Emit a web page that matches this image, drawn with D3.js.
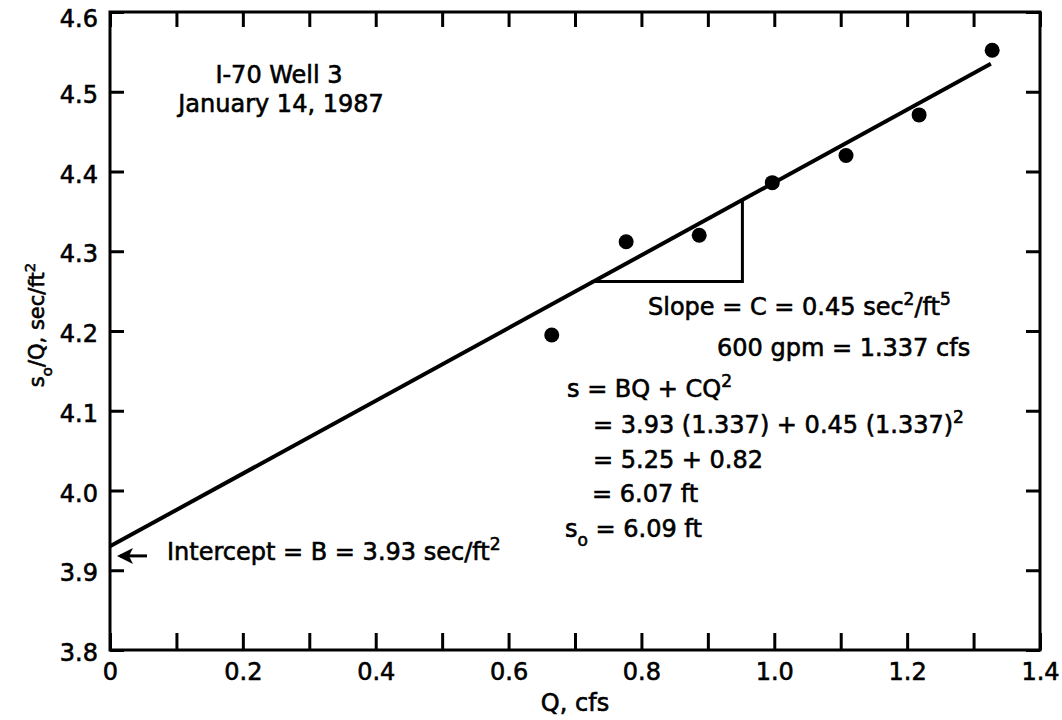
<!DOCTYPE html>
<html>
<head>
<meta charset="utf-8">
<script src="https://cdn.jsdelivr.net/npm/d3@7"></script>
<style>
  html, body { margin: 0; padding: 0; background: #fff; }
  svg { display: block; }
  text { font-family: "DejaVu Sans", "Liberation Sans", sans-serif; fill: #000; stroke: #000; stroke-width: 0.6px; }
</style>
</head>
<body>
<div id="chart"></div>
<script>
  // measured points (Q, s/Q)
  const qValues = [0.665, 0.777, 0.887, 0.997, 1.108, 1.218, 1.328];
  const sqValues = [4.195, 4.312, 4.320, 4.386, 4.420, 4.471, 4.552];

  // fitted straight line
  const fitQ = [0, 1.326];
  const fitSQ = [3.93, 4.535];

  // slope triangle
  const triQ = [0.725, 0.952];
  const triSQ = 4.262;

  const xTicks = [0, 0.1, 0.2, 0.3, 0.4, 0.5, 0.6, 0.7, 0.8, 0.9, 1.0, 1.1, 1.2, 1.3, 1.4];
  const xLabels = ["0", "", "0.2", "", "0.4", "", "0.6", "", "0.8", "", "1.0", "", "1.2", "", "1.4"];
  const yTicks = [3.8, 3.9, 4.0, 4.1, 4.2, 4.3, 4.4, 4.5, 4.6];
  const yLabels = ["3.8", "3.9", "4.0", "4.1", "4.2", "4.3", "4.4", "4.5", "4.6"];

  (function () {
    const width = 1062, height = 720;
    const left = 110, right = 1040, top = 12, bottom = 650;

    const svg = d3.select("#chart").append("svg")
      .attr("width", width).attr("height", height);

    const x = d3.scaleLinear().domain([0, 1.4]).range([left, right]);
    const y = d3.scaleLinear().domain([3.8, 4.6]).range([bottom, top]);

    function styleAxis(g) {
      g.select(".domain").remove();
      g.selectAll(".tick line").attr("stroke", "#000").attr("stroke-width", 3);
      g.selectAll(".tick text").attr("font-size", 24).attr("fill", "#000")
        .attr("font-family", "DejaVu Sans, sans-serif");
    }

    // bottom axis with inward ticks
    svg.append("g")
      .attr("transform", `translate(0,${bottom})`)
      .call(d3.axisBottom(x).tickValues(xTicks).tickSize(-17).tickPadding(13)
        .tickFormat((d, i) => xLabels[i]))
      .call(styleAxis);

    // top axis, ticks only
    svg.append("g")
      .attr("transform", `translate(0,${top})`)
      .call(d3.axisTop(x).tickValues(xTicks).tickSize(-15).tickFormat(""))
      .call(styleAxis);

    // left axis
    svg.append("g")
      .attr("transform", `translate(${left},0)`)
      .call(d3.axisLeft(y).tickValues(yTicks).tickSize(-14).tickPadding(12)
        .tickFormat((d, i) => yLabels[i]))
      .call(styleAxis)
      .call(g => g.selectAll(".tick text").attr("y", d => d === 4.6 ? 7 : 3));

    // right axis, ticks only
    svg.append("g")
      .attr("transform", `translate(${right},0)`)
      .call(d3.axisRight(y).tickValues(yTicks).tickSize(-14).tickFormat(""))
      .call(styleAxis);

    // frame
    svg.append("rect")
      .attr("x", left).attr("y", top)
      .attr("width", right - left).attr("height", bottom - top)
      .attr("fill", "none").attr("stroke", "#000").attr("stroke-width", 3);

    // fitted line
    const line = d3.line().x(d => x(d[0])).y(d => y(d[1]));
    svg.append("path")
      .datum(d3.zip(fitQ, fitSQ))
      .attr("d", line)
      .attr("fill", "none").attr("stroke", "#000").attr("stroke-width", 4);

    // slope triangle
    const triTop = fitSQ[0] + (fitSQ[1] - fitSQ[0]) / (fitQ[1] - fitQ[0]) * triQ[1];
    svg.append("path")
      .datum([[triQ[0], triSQ], [triQ[1], triSQ], [triQ[1], triTop]])
      .attr("d", line)
      .attr("fill", "none").attr("stroke", "#000").attr("stroke-width", 3);

    // points
    svg.append("g").selectAll("circle")
      .data(d3.zip(qValues, sqValues))
      .join("circle")
      .attr("cx", d => x(d[0]))
      .attr("cy", d => y(d[1]))
      .attr("r", 7.5)
      .attr("fill", "#000");

    // intercept arrow
    const ay = y(3.918);
    svg.append("path")
      .attr("d", `M${x(0) + 37},${ay} L${x(0) + 10},${ay}`)
      .attr("stroke", "#000").attr("stroke-width", 3).attr("fill", "none");
    svg.append("path")
      .attr("d", `M${x(0) + 7},${ay} L${x(0) + 23},${ay - 8} L${x(0) + 19},${ay} L${x(0) + 23},${ay + 8} Z`)
      .attr("fill", "#000");

    // annotations
    function addText(tx, ty, parts, anchor, size) {
      const fs = size || 24;
      const t = svg.append("text")
        .attr("x", tx).attr("y", ty)
        .attr("font-size", fs)
        .attr("text-anchor", anchor || "start");
      parts.forEach(p => {
        const s = t.append("tspan").text(p.t);
        if (p.sup) s.attr("font-size", fs * 0.71).attr("dy", -fs * 0.42);
        if (p.sub) s.attr("font-size", fs * 0.71).attr("dy", fs * 0.36);
        if (p.back) s.attr("dy", p.back * fs / 24);
      });
      return t;
    }

    addText(279, 83, [{ t: "I-70 Well 3" }], "middle");
    addText(281, 112, [{ t: "January 14, 1987" }], "middle");

    addText(648, 315, [{ t: "Slope = C = 0.45 sec" }, { t: "2", sup: true }, { t: "/ft", back: 10 }, { t: "5", sup: true }]);
    addText(717, 356, [{ t: "600 gpm = 1.337 cfs" }]);
    addText(567, 397, [{ t: "s = BQ + CQ" }, { t: "2", sup: true }]);
    addText(593, 433, [{ t: "= 3.93 (1.337) + 0.45 (1.337)" }, { t: "2", sup: true }]);
    addText(593, 468, [{ t: "= 5.25 + 0.82" }]);
    addText(592, 502, [{ t: "= 6.07 ft" }]);
    addText(565, 537, [{ t: "s" }, { t: "o", sub: true }, { t: " = 6.09 ft", back: -8.6 }]);
    addText(167, 560, [{ t: "Intercept = B = 3.93 sec/ft" }, { t: "2", sup: true }]);

    // axis titles
    addText((left + right) / 2, 711, [{ t: "Q, cfs" }], "middle");
    addText(0, 0, [{ t: "s" }, { t: "o", sub: true }, { t: "/Q, sec/ft", back: -8.6 }, { t: "2", sup: true }], "middle", 21)
      .attr("transform", "translate(44,325) rotate(-90)");
  })();
</script>
</body>
</html>
